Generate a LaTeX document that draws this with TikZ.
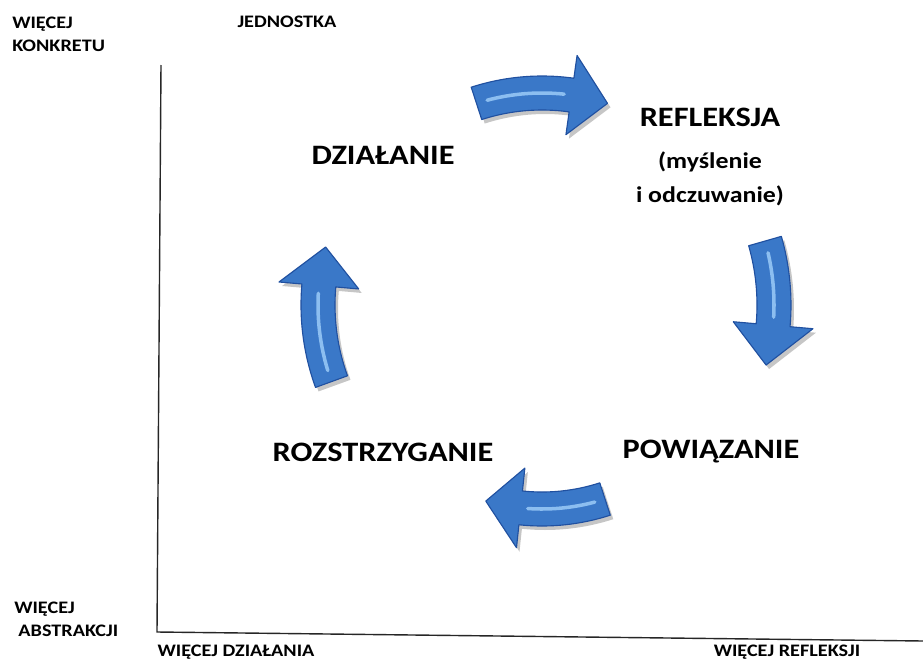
\documentclass[tikz,border=0pt]{standalone}
\usepackage{fontspec}
\setmainfont[FakeStretch=1.15]{Carlito}
\usetikzlibrary{positioning}

\definecolor{arrowblue}{RGB}{58,120,200}
\definecolor{arrowedge}{RGB}{32,80,160}
\definecolor{arrowshine}{RGB}{140,190,240}

\newcommand{\smalltxt}{\fontsize{12.5}{16.3}\selectfont\bfseries}
\newcommand{\bigtxt}{\fontsize{20}{24}\selectfont\bfseries}
\newcommand{\subtxt}{\fontsize{16}{24}\selectfont\bfseries}

% clockwise arc arrow round the centre: start angle, end angle, radius
\newcommand{\cyclearrow}[3]{%
  \fill[gray!45, shift={(3,-4)}] (#1:#3+17) arc[start angle=#1, end angle=#2+10, radius=#3+17]
    -- (#2+10:#3+40) -- (#2:#3) -- (#2+10:#3-40) -- (#2+10:#3-17)
    arc[start angle=#2+10, end angle=#1, radius=#3-17] -- cycle;
  \filldraw[fill=arrowblue, draw=arrowedge, line width=0.8pt, line join=round]
    (#1:#3+17) arc[start angle=#1, end angle=#2+10, radius=#3+17]
    -- (#2+10:#3+40) -- (#2:#3) -- (#2+10:#3-40) -- (#2+10:#3-17)
    arc[start angle=#2+10, end angle=#1, radius=#3-17] -- cycle;
  \draw[arrowshine, line width=2.5pt, line cap=round]
    (#1-3:#3) arc[start angle=#1-3, end angle=#2+12, radius=#3];
}

\begin{document}
\begin{tikzpicture}[
    x=0.025cm, y=-0.025cm,
    label/.style={inner sep=0pt, align=center},
    axislabel/.style={inner sep=0pt, font=\smalltxt},
    axisline/.style={draw=black!85, line width=1pt}
]
\useasboundingbox (0,0) rectangle (923,659);

% axes
\coordinate (top) at (161,65);
\coordinate (origin) at (157,632);
\coordinate (end) at (923,641);
\draw[axisline] (top) -- (origin) -- (end);

\node (konkret) [axislabel, anchor=west, align=left] at (12,34) {WIĘCEJ\\KONKRETU};
\node (unit) [axislabel] at (287,22) {JEDNOSTKA};
\node (abstr) [axislabel, anchor=west, align=left] at (14,619) {WIĘCEJ\\\hspace{3pt}ABSTRAKCJI};
\node (dzial) [axislabel] at (236,652) {WIĘCEJ DZIAŁANIA};
\node (refl) [axislabel] at (787,652) {WIĘCEJ REFLEKSJI};

% stages of the cycle
\node (act) [label, font=\bigtxt] at (383,155) {DZIAŁANIE};
\node (reflect) [label, font=\bigtxt] at (710,117) {REFLEKSJA};
\node (feel) [label, font=\subtxt, below=18pt of reflect] {(myślenie\\i odczuwanie)};
\node (link) [label, font=\bigtxt] at (711,452) {POWIĄZANIE};
\node (decide) [label, font=\bigtxt] at (383,452) {ROZSTRZYGANIE};

\coordinate (c) at (542,305);
\begin{scope}[shift={(c)}, y=0.025cm]
\cyclearrow{108}{72}{212}
\cyclearrow{16}{-15}{232}
\cyclearrow{-72}{-106}{204}
\cyclearrow{200}{165}{224}
\end{scope}

\end{tikzpicture}
\end{document}
